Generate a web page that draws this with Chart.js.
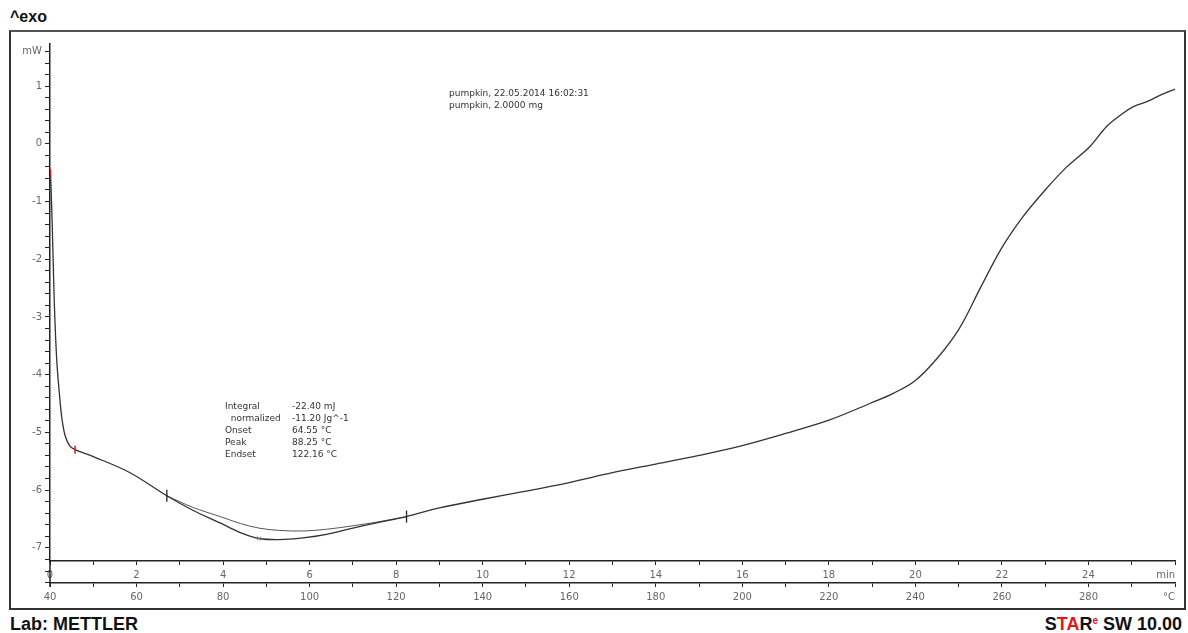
<!DOCTYPE html>
<html>
<head>
<meta charset="utf-8">
<title>pumpkin DSC</title>
<script src="https://cdn.jsdelivr.net/npm/chart.js@4.4.1/dist/chart.umd.min.js"></script>
<style>
body { margin: 0; background: #fff; font-family: "DejaVu Sans", sans-serif; }
#page { position: relative; width: 1188px; height: 633px; overflow: hidden; }
#frame { position: absolute; left: 9px; top: 30px; width: 1177px; height: 580px; box-sizing: border-box; border: 2px solid #333; border-top-color: #555; }
#dsc { position: absolute; left: 9px; top: 30px; }
.big { position: absolute; font-family: "Liberation Sans", Arial, sans-serif; font-weight: bold; line-height: 1; color: #111; white-space: pre; }
.note { position: absolute; font-size: 9px; line-height: 12px; color: #333; white-space: pre; }
.note span { display: inline-block; }
.red { color: #e8141b; }
</style>
</head>
<body>
<div id="page">
  <div class="big" style="left:10px; top:9px; font-size:16px;">^exo</div>
  <div id="frame"></div>
  <canvas id="dsc" width="1177" height="580"></canvas>
  <div class="note" style="left:449px; top:87px;">pumpkin, 22.05.2014 16:02:31
pumpkin, 2.0000 mg</div>
  <div class="note" style="left:225px; top:400px;"><span style="width:67px">Integral</span>-22.40 mJ
<span style="width:67px">  normalized</span>-11.20 Jg^-1
<span style="width:67px">Onset</span>64.55 °C
<span style="width:67px">Peak</span>88.25 °C
<span style="width:67px">Endset</span>122.16 °C</div>
  <div class="big" style="left:10px; top:615px; font-size:18px;">Lab: METTLER</div>
  <div class="big" style="right:6px; top:615px; font-size:18px;">S<span class="red">TA</span>R<span class="red" style="font-size:10px; vertical-align:6px;">e</span> SW 10.00</div>
</div>
<script>
// measured curve, time in min, heat flow in mW
const timeMin = [0.01, 0.03, 0.053, 0.086, 0.116, 0.16, 0.21, 0.27, 0.35, 0.46, 0.58, 1.0, 1.85, 2.70,
    3.3, 3.93, 4.40, 4.83, 5.30, 5.85, 6.39, 7.0, 7.6, 8.24, 9.0, 10, 11, 12, 13, 14, 15, 16, 17, 18,
    18.95, 19.5, 20, 20.5, 21, 21.5, 22, 22.5, 23, 23.5, 24.03, 24.42, 24.80, 25.03, 25.35, 25.65, 26.0];
const heatFlow = [-0.48, -0.9, -1.44, -2.4, -3.1, -3.8, -4.27, -4.73, -5.06, -5.24, -5.30, -5.42, -5.70, -6.10,
    -6.35, -6.57, -6.74, -6.84, -6.86, -6.83, -6.77, -6.66, -6.56, -6.46, -6.31, -6.16, -6.02, -5.87, -5.70, -5.55, -5.40, -5.23, -5.02, -4.79,
    -4.50, -4.32, -4.10, -3.72, -3.22, -2.50, -1.80, -1.25, -0.80, -0.40, -0.05, 0.30, 0.53, 0.64, 0.73, 0.84, 0.95];

// integration baseline
const baseTime = [2.70, 3.3, 3.93, 4.40, 4.83, 5.30, 5.85, 6.39, 7.0, 7.6, 8.24];
const baseFlow = [-6.10, -6.30, -6.46, -6.58, -6.66, -6.70, -6.71, -6.68, -6.62, -6.55, -6.46];

// markers
const redMarkTime = [0.01, 0.58];
const redMarkFlow = [-0.50, -5.30];
const limitTime = [2.70, 8.24];
const limitFlow = [-6.10, -6.46];
const peakTime = [4.83];
const peakFlow = [-6.84];

// axes
const timeTicks = [0, 2, 4, 6, 8, 10, 12, 14, 16, 18, 20, 22, 24];
const tempTicks = [40, 60, 80, 100, 120, 140, 160, 180, 200, 220, 240, 260, 280];
const flowTicks = [-7, -6, -5, -4, -3, -2, -1, 0, 1];
const flowUnitAt = 1.6;

function pts(xs, ys) {
    return xs.map((x, i) => ({ x: x, y: ys[i] }));
}

const tickFont = { family: "DejaVu Sans", size: 10 };
const tickColor = "#666";
const lineColor = "#222";

const axisExtras = {
    id: "axisExtras",
    afterDraw(chart) {
        const c = chart.ctx;
        const y = chart.scales.y, x = chart.scales.x, xT = chart.scales.xT;
        const left = chart.chartArea.left;
        c.save();
        c.strokeStyle = lineColor;
        c.lineWidth = 1.5;
        c.beginPath();
        c.moveTo(left, chart.chartArea.bottom);
        c.lineTo(left, xT.top + 4);
        c.stroke();
        c.lineWidth = 1;
        [-7.4, -7.6].forEach(v => {
            const py = Math.round(y.getPixelForValue(v)) + 0.5;
            c.beginPath();
            c.moveTo(left - 5, py);
            c.lineTo(left, py);
            c.stroke();
        });
        c.fillStyle = tickColor;
        c.font = "10px 'DejaVu Sans'";
        c.textAlign = "right";
        c.textBaseline = "middle";
        c.fillText("min", x.right, x.top + 14);
        c.fillText("°C", xT.right, xT.top + 14);
        c.restore();
    }
};

const ctx = document.getElementById("dsc").getContext("2d");

const dscChart = new Chart(ctx, {
    type: "line",
    data: {
        datasets: [{
            data: pts(timeMin, heatFlow),
            borderColor: "#333",
            borderWidth: 1.3,
            pointRadius: 0,
            tension: 0.35,
            order: 2
        }, {
            data: pts(baseTime, baseFlow),
            borderColor: "#555",
            borderWidth: 1,
            pointRadius: 0,
            tension: 0.35,
            order: 3
        }, {
            type: "scatter",
            data: pts(redMarkTime, redMarkFlow),
            pointStyle: "line",
            rotation: 90,
            pointRadius: 4,
            borderColor: "#e8141b",
            borderWidth: 1.5,
            order: 1
        }, {
            type: "scatter",
            data: pts(limitTime, limitFlow),
            pointStyle: "line",
            rotation: 90,
            pointRadius: 6,
            borderColor: "#222",
            borderWidth: 1.3,
            order: 1
        }, {
            type: "scatter",
            data: pts(peakTime, peakFlow),
            pointStyle: "crossRot",
            pointRadius: 3,
            borderColor: "#888",
            borderWidth: 1,
            order: 1
        }]
    },
    options: {
        responsive: false,
        animation: false,
        devicePixelRatio: 1,
        layout: { padding: { top: 14, right: 11, bottom: 5, left: 0 } },
        plugins: { legend: { display: false }, tooltip: { enabled: false } },
        scales: {
            x: {
                type: "linear",
                position: "bottom",
                weight: 0,
                min: 0,
                max: 26,
                afterFit(scale) { scale.height = 22; },
                ticks: {
                    stepSize: 1,
                    autoSkip: false,
                    maxRotation: 0,
                    padding: 4,
                    color: tickColor,
                    font: tickFont,
                    callback: v => timeTicks.includes(v) ? v : ""
                },
                grid: { drawOnChartArea: false, tickLength: 4, color: lineColor },
                border: { color: lineColor, width: 1.5 }
            },
            xT: {
                type: "linear",
                position: "bottom",
                weight: 1,
                min: 40,
                max: 300,
                afterFit(scale) { scale.height = 22; },
                ticks: {
                    stepSize: 10,
                    autoSkip: false,
                    maxRotation: 0,
                    padding: 4,
                    color: tickColor,
                    font: tickFont,
                    callback: v => tempTicks.includes(v) ? v : ""
                },
                grid: { drawOnChartArea: false, tickLength: 4, color: lineColor },
                border: { color: lineColor, width: 1.5 }
            },
            y: {
                type: "linear",
                min: -7.23,
                max: 1.73,
                afterFit(scale) { scale.width = 41; },
                ticks: {
                    stepSize: 0.2,
                    includeBounds: false,
                    autoSkip: false,
                    padding: 3,
                    color: tickColor,
                    font: tickFont,
                    callback: v => {
                        const r = Math.round(v * 10) / 10;
                        if (r === flowUnitAt) return "mW";
                        return flowTicks.includes(r) ? r : "";
                    }
                },
                grid: { drawOnChartArea: false, tickLength: 5, color: lineColor },
                border: { color: lineColor, width: 1.5 }
            }
        }
    },
    plugins: [axisExtras]
});
</script>
</body>
</html>
